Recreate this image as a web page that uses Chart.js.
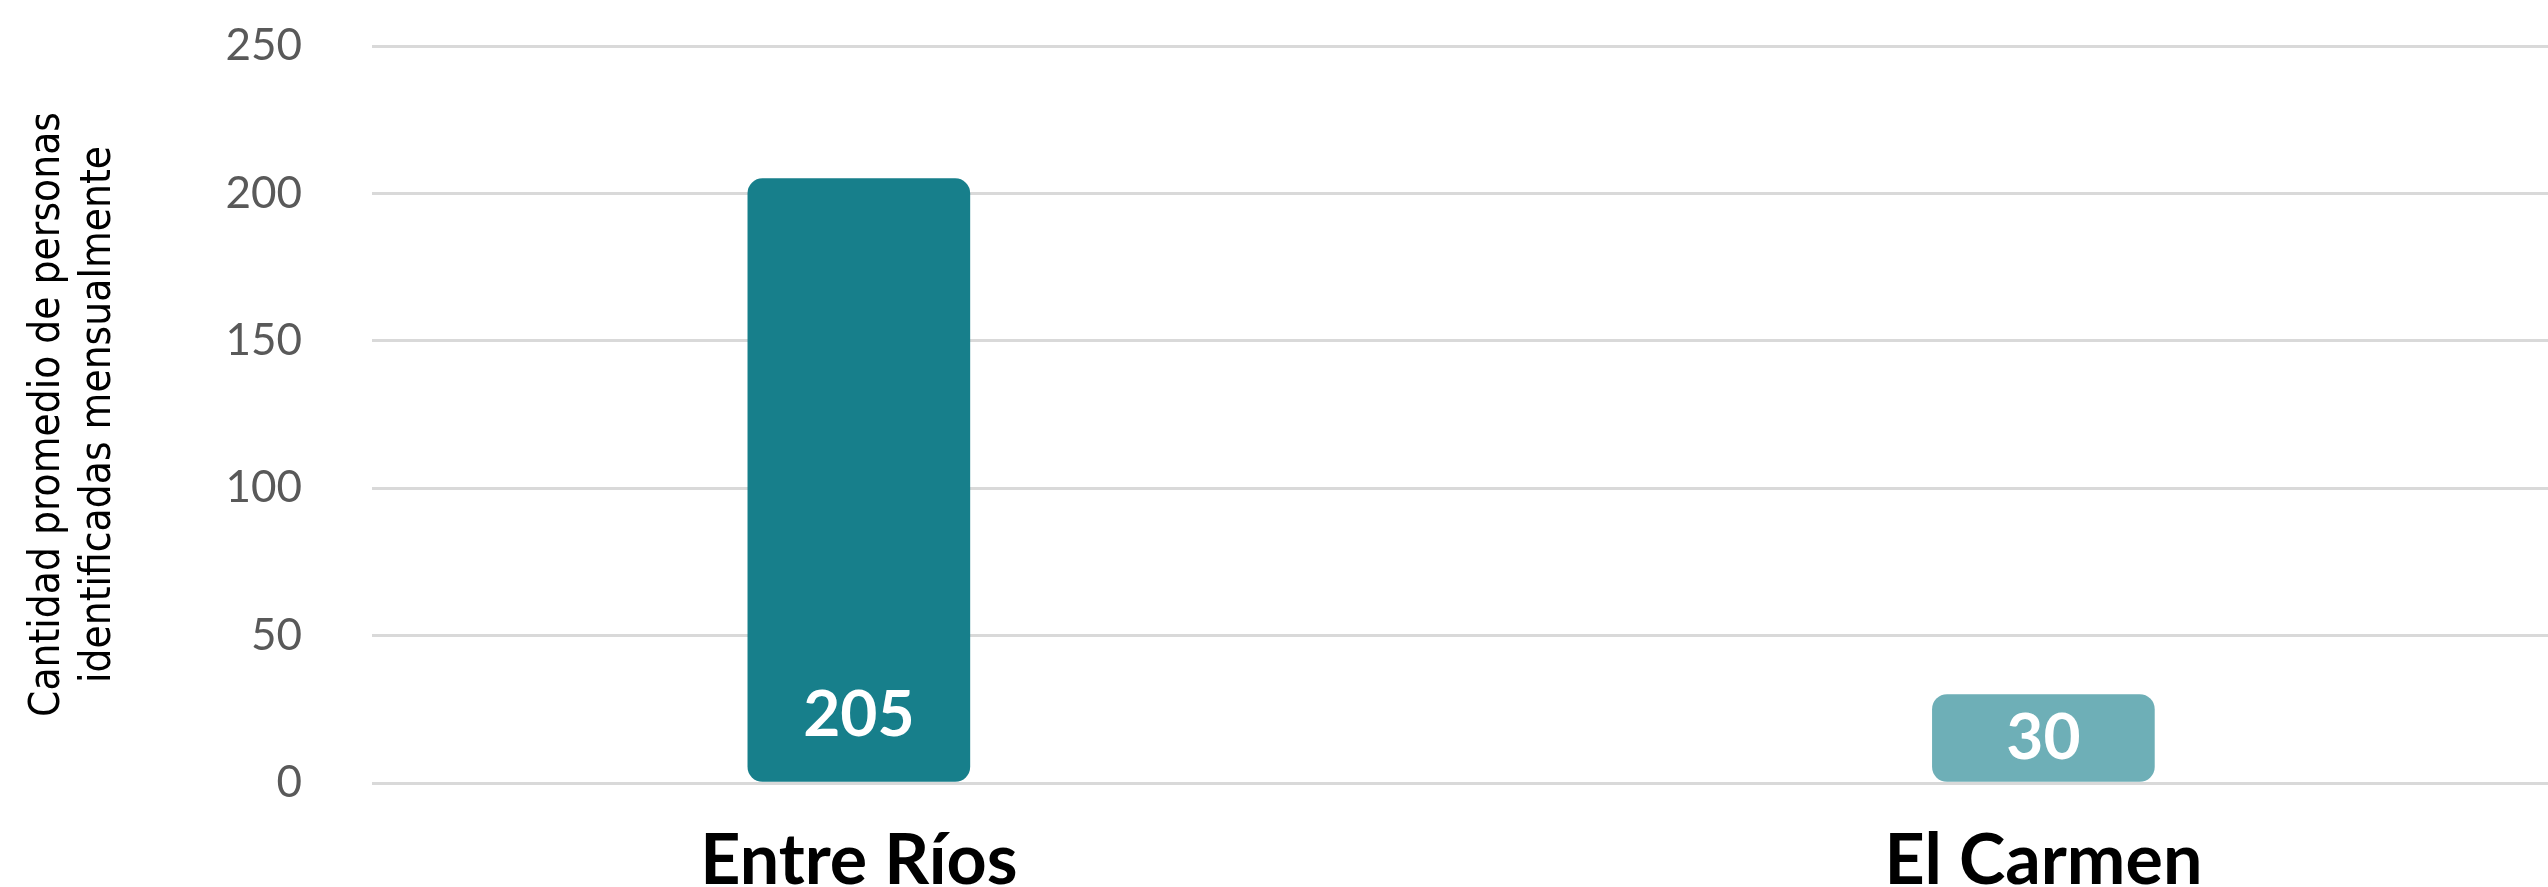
<!DOCTYPE html>
<html>
<head>
<meta charset="utf-8">
<script src="https://cdn.jsdelivr.net/npm/chart.js@4"></script>
<style>
  html, body { margin: 0; padding: 0; background: #ffffff; }
</style>
</head>
<body>
<canvas id="chartCanvas" width="2548" height="887"></canvas>
<script>
const categories = ["Entre Ríos", "El Carmen"];
const values = [205, 30];
const barColors = ["#177f8b", "#6eafb7"];
const yTicks = [0, 50, 100, 150, 200, 250];
const yTitle = ["Cantidad promedio de personas", "identificadas mensualmente"];

// white numbers sitting near the base of each bar
const barLabels = {
    id: "barLabels",
    afterDatasetsDraw(chart) {
        const ctx = chart.ctx;
        const meta = chart.getDatasetMeta(0);
        ctx.save();
        ctx.fillStyle = "#ffffff";
        ctx.font = "bold 64px Lato, 'Open Sans', sans-serif";
        ctx.textAlign = "center";
        ctx.textBaseline = "middle";
        meta.data.forEach((bar, i) => {
            const lift = Math.min(66, (bar.base - bar.y) / 2);
            ctx.fillText(String(values[i]), bar.x, bar.base - lift);
        });
        ctx.restore();
    }
};

const ctx = document.getElementById("chartCanvas").getContext("2d");

new Chart(ctx, {
    type: "bar",
    data: {
        datasets: [{
            data: values.map((v, i) => ({ x: i, y: v })),
            backgroundColor: barColors,
            borderRadius: 15,
            borderSkipped: false,
            barThickness: 222
        }]
    },
    options: {
        responsive: false,
        animation: false,
        layout: { padding: { top: 46, right: 0, left: 0, bottom: 0 } },
        plugins: {
            legend: { display: false },
            tooltip: { enabled: false }
        },
        scales: {
            x: {
                type: "linear",
                offset: false,
                bounds: "data",
                min: -0.411,
                max: 1.426,
                grid: { display: false, offset: false },
                border: { display: false },
                afterBuildTicks: (scale) => {
                    scale.ticks = categories.map((c, i) => ({ value: i }));
                },
                afterFit: (scale) => { scale.height = 104; },
                ticks: {
                    autoSkip: false,
                    maxRotation: 0,
                    padding: 28,
                    color: "#000000",
                    font: { family: "Lato, 'Open Sans', sans-serif", size: 70, weight: "bold" },
                    callback: (v) => categories[v]
                }
            },
            y: {
                min: 0,
                max: 250,
                afterBuildTicks: (scale) => {
                    scale.ticks = yTicks.map(v => ({ value: v }));
                },
                afterFit: (scale) => {
                    scale.width = 372;
                    scale.paddingTop = 0;
                    scale.paddingBottom = 0;
                },
                grid: { color: "#d9d9d9", lineWidth: 3, drawTicks: false },
                border: { display: false },
                ticks: {
                    padding: 70,
                    color: "#595959",
                    font: { family: "Lato, 'Open Sans', sans-serif", size: 44 }
                },
                title: {
                    display: true,
                    text: yTitle,
                    color: "#000000",
                    padding: { top: 23, bottom: 0 },
                    font: { family: "'Liberation Sans Narrow', 'DejaVu Sans Condensed', Lato, sans-serif", size: 42, lineHeight: 1.2 }
                }
            }
        }
    },
    plugins: [barLabels]
});
</script>
</body>
</html>
